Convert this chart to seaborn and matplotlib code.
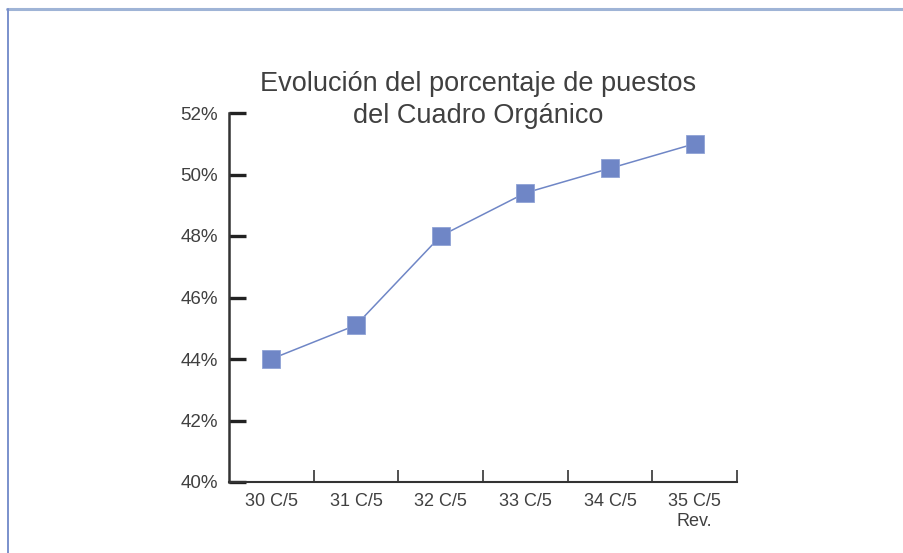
import numpy as np
import pandas as pd
import matplotlib
matplotlib.use('Agg')
import matplotlib.pyplot as plt
import seaborn as sns
from matplotlib.lines import Line2D
from matplotlib.ticker import FixedLocator, FuncFormatter

# data
periods = ['30 C/5', '31 C/5', '32 C/5', '33 C/5', '34 C/5', '35 C/5\nRev.']
pct_posts = [44.0, 45.1, 48.0, 49.4, 50.2, 51.0]
y_ticks = [40, 42, 44, 46, 48, 50, 52]

title = 'Evolución del porcentaje de puestos\ndel Cuadro Orgánico'

blue = '#6f86c6'
text_col = '#404040'

sns.set_style('white')
plt.rcParams['font.family'] = ['Liberation Sans', 'DejaVu Sans']

df = pd.DataFrame({'pos': np.arange(len(periods)), 'pct': pct_posts})

fig = plt.figure(figsize=(9.04, 5.53), dpi=100)
ax = fig.add_axes([229 / 904, 1 - 482 / 553, (737 - 229) / 904, (482 - 113) / 553])

sns.lineplot(data=df, x='pos', y='pct', ax=ax, color=blue, linewidth=1.1,
             marker='s', markersize=13.5, markeredgecolor='#8fa2d6', markeredgewidth=0.6)

ax.set_xlim(-0.5, len(periods) - 0.5)
ax.set_ylim(min(y_ticks), max(y_ticks))
ax.set_xlabel('')
ax.set_ylabel('')

# x: labels centred on categories, tick marks on the boundaries
ax.set_xticks(df['pos'])
ax.set_xticklabels(periods, color=text_col, fontsize=13, linespacing=1.25)
ax.xaxis.set_minor_locator(FixedLocator(np.arange(0.5, len(periods), 1)))
ax.tick_params(axis='x', which='major', length=0, pad=8)
ax.tick_params(axis='x', which='minor', direction='in', length=9, width=1.2, color='#333333', bottom=True)

ax.set_yticks(y_ticks)
ax.yaxis.set_major_formatter(FuncFormatter(lambda v, p: f'{v:.0f}%'))
ax.tick_params(axis='y', direction='in', length=12, width=2.4, color='#222222', left=True,
               labelsize=13.5, labelcolor=text_col, pad=8)

for s in ['top', 'right']:
    ax.spines[s].set_visible(False)
ax.spines['left'].set_linewidth(1.8)
ax.spines['left'].set_color('#333333')
ax.spines['bottom'].set_linewidth(1.5)
ax.spines['bottom'].set_color('#333333')

fig.text(478 / 904, 1 - 100 / 553, title, ha='center', va='center', fontsize=19.5,
         color=text_col, linespacing=1.26, multialignment='center')

# frame lines at top and left of the picture
fig.add_artist(Line2D([7 / 904, 1], [1 - 9 / 553, 1 - 9 / 553], color='#9fb4d6', linewidth=2.2))
fig.add_artist(Line2D([8 / 904, 8 / 904], [0, 1 - 9 / 553], color='#7a90cc', linewidth=1.4))

fig.savefig('out.png', dpi=100)
